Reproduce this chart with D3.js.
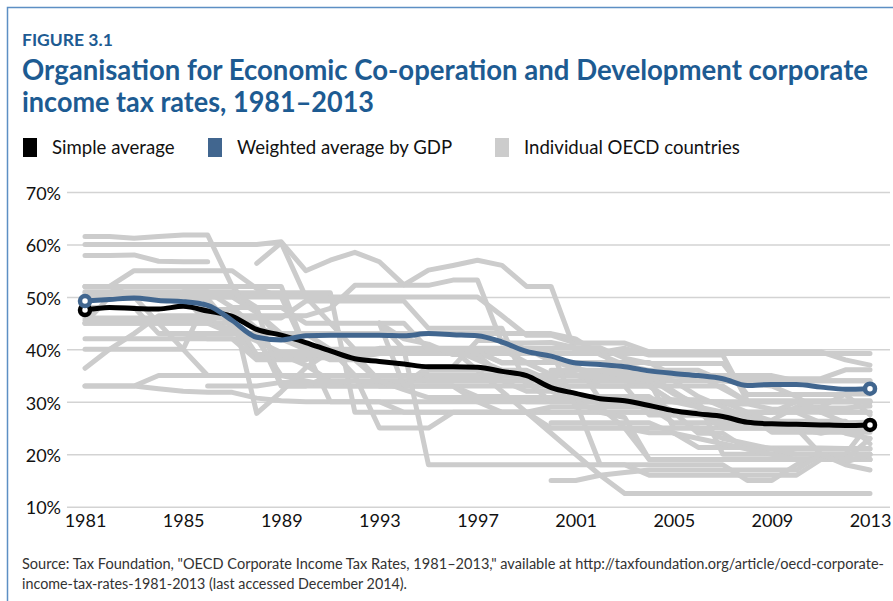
<!DOCTYPE html>
<html>
<head>
<meta charset="utf-8">
<script src="https://cdn.jsdelivr.net/npm/d3@7"></script>
<style>
  body { margin: 0; background: #fff; }
  svg { display: block; }
  text { font-family: Lato, "Open Sans", sans-serif; }
</style>
</head>
<body>
<svg width="893" height="601"></svg>
<script>
var N = null;
var years = d3.range(1981, 2014);

var simpleAverage = [47.5,48.0,47.8,47.7,48.2,47.3,46.3,43.8,42.7,41.3,39.7,38.2,37.7,37.2,36.7,36.7,36.6,35.8,35.0,32.7,31.6,30.6,30.2,29.3,28.3,27.7,27.2,26.1,25.8,25.7,25.6,25.5,25.6];
var weightedAverage = [49.2,49.5,49.8,49.3,49.1,48.4,45.5,42.3,41.8,42.6,42.7,42.7,42.7,42.6,43.0,42.8,42.6,41.4,39.6,38.7,37.4,37.1,36.7,35.9,35.4,35.0,34.4,33.1,33.3,33.3,32.8,32.4,32.5];

// individual OECD countries, 1981-2013 (null = no data)
var country01 = [61.5,61.5,61.2,61.5,61.8,61.8,52,47,42,40,39,39,34,34,34,34,34,34,34,34,34,34,34,34,25,25,25,25,25,25,25,25,25];
var country02 = [60,60,60,60,60,60,60,60,60.5,55,57,58.5,56.7,52.3,55.1,56,57,56,52,52,39.4,39.4,40.2,38.9,38.9,38.9,38.9,30.2,30.2,30.2,30.2,30.2,30.2];
var country03 = [57.9,57.9,58,56.8,56.7,56.7,N,56.4,60.3,50,45,40,40,40,40,40,40,40,37.5,37.5,37.5,37.5,37.5,37.5,35,35,35,35,35,34,34,34,34];
var country04 = [49.7,49.7,49.7,49.7,49.7,49.7,44,38.4,38.4,38.4,38.4,38.4,39.2,39.2,39.2,39.2,39.2,39.2,39.2,39.2,39.2,39.2,39.2,39.2,39.2,39.2,39.2,39.2,39.2,39.2,39.2,39.2,39.2];
var country05 = [52,52,55,55,55,55,55,51.6,50,50,50,50,50,50,50,50,50,46.4,42.7,42.7,41.2,41.2,41.2,39.5,39.5,39.5,39.5,39.5,39.5,39.5,39.5,38,37];
var country06 = [52,52,50,45,40,35,35,35,35,34,33,33,33,33,33,33,31,31,30,30,30,30,30,30,30,30,30,28,28,28,26,24,23];
var country07 = [50,50,50,50,50,45,45,42,39,37,34,34,33.3,33.3,36.7,36.7,41.7,41.7,40,37.8,36.4,35.4,35.4,35.4,35,34.4,34.4,34.4,34.4,34.4,34.4,36.1,36.1];
var country08 = [36.4,40,43,46.4,46.4,46.4,46.4,46.4,46.4,46.4,47.8,52.2,52.2,52.2,52.2,53.2,53.2,41.2,41.2,41.3,40.3,40.3,38.3,37.3,37.3,37.3,37.3,31.4,31.4,31.4,31.4,31.4,27.5];
var country09 = [51,51,51,51,51,51,48,44,43,43,43,43,43,43,43,43,43,43,43,43,42,39,37,36,36,36,34,33.5,33,31,28,26,26.1];
var country10 = [48,48,48,43,43,42,42,42,35,35,35,35,35,35,35,35,35,35,35,35,35,34.5,34.5,34.5,31.5,29.6,25.5,25.5,25.5,25.5,25,25,25];
var country11 = [45,45,45,45,45,45,43,43,43,41,39,39,40.2,40.2,40.2,40.2,40.2,40.2,40.2,40.2,40.2,40.2,34,34,34,34,34,34,34,34,34,34,34];
var country12 = [40,40,40,40,40,50,50,50,50,40,38,38,34,34,34,34,34,34,32,32,30,30,30,30,28,28,25,25,25,25,25,25,25];
var country13 = [42,42,42,42,42,42,42,38,38,38,40,35,35,35,35,35,35,35,35,35,35,35,35,35,32,29,25,25,25,25,20,20,26];
var country14 = [33,33,33,35,35,35,35,35,35,35,35,35,35,35,35,35,35,35,35,35,35,35,35,35,35,35,32.5,30,30,30,30,30,30];
var country15 = [33,33,33,32.5,32,31.8,31.8,30.7,30.2,30,30,30,30,30,30,30,30,28,28,25,25,25,25,24.1,24.1,21.3,21.3,21.3,21.2,21.2,21.2,21.1,21.1];
var country16 = [N,N,N,N,N,47.6,47.6,27.8,31.9,36.5,39.6,39.6,39.6,39.6,39.6,39.6,39.6,37.4,37.4,35.2,35.2,33,33,27.5,27.5,27.5,26.5,26.5,26.5,29,29,31.5,31.5];
var country17 = [45,50,50,50,50,50,50,47,43,43,40,40,40,40,40,40,36,32,28,24,20,16,12.5,12.5,12.5,12.5,12.5,12.5,12.5,12.5,12.5,12.5,12.5];
var country18 = [45.5,45.5,45.5,45.5,45.5,45.5,43.6,41.6,39.4,39.4,39.4,39.4,39.4,39.4,39.4,39.4,39.4,37.5,37.5,37.5,37.5,30.4,30.4,30.4,30.4,30.4,29.6,29.6,28.6,28.6,28.8,28.8,29.2];
var country19 = [45,45,45,45,45,45,48,48,33,33,33,33,33,33,33,33,33,33,33,33,33,33,33,33,33,33,33,30,30,30,28,28,28];
var country20 = [50.8,50.8,50.8,50.8,50.8,50.8,50.8,50.8,50.8,50.8,50.8,28,28,28,28,28,28,28,28,28,28,28,28,28,28,28,28,28,28,28,28,28,28];
var country21 = [52,52,52,52,52,52,52,52,52,40,30,30,30,28,28,28,28,28,28,28,28,28,28,28,28,28,28,28,26.3,26.3,26.3,26.3,22];
var country22 = [46,46,46,46,46,46,46,39,39,39,39,39,33,33,36,36,36,36,36,34,30,30,30,30,30,30,30,30,30,30,30,30,30];
var country23 = [N,N,N,N,43,43,43,43,33,33,35,35,25,25,25,28,28,28,28,29,29,29,29,29,26,26,26,26,26,26,26,24.5,24.5];
var country24 = [N,N,N,N,51,51,51,48,48,45,45,45,45,33,33,33,30,30,30,30,30,18,18,18,18,18,18,15,15,18,20,20,20];
var country25 = [N,N,N,N,46,46,46,46,46,49.2,49.2,49.2,49.2,49.2,44,44,44,44,33,33,33,33,33,33,30,30,20,20,20,20,20,20,20];
var country26 = [N,N,N,N,N,33,33,33,33.7,33.7,33.7,34,34,32.3,30.8,30.8,30.8,30.8,30.8,30.8,30.8,29.7,29.7,29.7,27.5,27.5,27.5,27.5,24.2,24.2,24.2,24.2,24.2];
var country27 = [N,N,N,N,N,N,N,N,N,N,N,N,35,35,34,34,34,34,34,35,35,35,34,33,30,29,28,28,28,30,30,30,30];
var country28 = [N,N,N,N,N,N,N,N,N,N,N,N,45,42,41,39,39,35,35,35,31,31,31,31,28,24,24,21,20,19,19,19,19];
var country29 = [N,N,N,N,N,N,N,N,N,N,N,N,45,40,18,18,18,18,18,18,18,18,18,16,16,16,16,16,16,16,19,19,19];
var country30 = [N,N,N,N,N,N,N,N,N,N,N,40,40,40,40,40,38,36,34,30,30,28,27,19,19,19,19,19,19,19,19,19,19];
var country31 = [N,N,N,N,N,N,N,N,N,N,N,N,45,45,40,40,40,40,40,40,29,29,25,19,19,19,19,19,19,19,19,19,23];
var country32 = [N,N,N,N,N,N,N,N,N,N,N,N,N,N,N,N,N,N,N,26,26,26,26,26,24,23,22,21,21,21,21,21,21];
var country33 = [N,N,N,N,N,N,N,N,N,N,N,N,N,N,N,N,N,N,N,15,15,16,16.5,17,17,17,17,17,17,17,20,18.5,20];
var country34 = [N,N,N,N,N,N,N,N,N,N,N,N,N,N,N,N,N,N,N,25,25,25,25,25,25,25,23,22,21,20,20,18,17];
var country35 = [N,N,N,N,N,N,N,N,N,N,N,N,N,N,N,N,N,N,N,36,36,36,36,35,34,31,29,27,26,25,24,25,25];

var individualCountries = [country01,country02,country03,country04,country05,country06,country07,
    country08,country09,country10,country11,country12,country13,country14,country15,country16,
    country17,country18,country19,country20,country21,country22,country23,country24,country25,
    country26,country27,country28,country29,country30,country31,country32,country33,country34,country35];

var yTicks = [10, 20, 30, 40, 50, 60, 70];
var xTicks = [1981, 1985, 1989, 1993, 1997, 2001, 2005, 2009, 2013];

var legendLabels = ["Simple average", "Weighted average by GDP", "Individual OECD countries"];
var legendColors = ["#000000", "#41668f", "#cccccc"];

var svg = d3.select("svg");
var width = +svg.attr("width");

var titleBlue = "#1d5b92";

var x = d3.scaleLinear().domain([1981, 2013]).range([85, 870]);
var y = d3.scaleLinear().domain([10, 70]).range([506.7, 192]);

// frame
svg.append("path")
    .attr("d", "M7.5,601V7.5H" + width)
    .attr("fill", "none")
    .attr("stroke", "#5d8fc4")
    .attr("stroke-width", 1.5);

// heading
svg.append("text")
    .attr("x", 22).attr("y", 46)
    .attr("font-size", 17.5).attr("font-weight", "bold")
    .attr("fill", titleBlue)
    .text("FIGURE 3.1");

svg.append("text")
    .attr("x", 22).attr("y", 80)
    .attr("font-size", 28).attr("font-weight", "bold")
    .attr("fill", titleBlue)
    .attr("textLength", 846).attr("lengthAdjust", "spacingAndGlyphs")
    .text("Organisation for Economic Co-operation and Development corporate");

svg.append("text")
    .attr("x", 22).attr("y", 112)
    .attr("font-size", 28).attr("font-weight", "bold")
    .attr("fill", titleBlue)
    .attr("textLength", 352).attr("lengthAdjust", "spacingAndGlyphs")
    .text("income tax rates, 1981–2013");

// legend
var legendX = [23, 208, 495];
var legend = svg.append("g").selectAll("g")
    .data(legendLabels)
    .enter().append("g")
    .attr("transform", function (d, i) { return "translate(" + legendX[i] + ",138)"; });

legend.append("rect")
    .attr("width", 14).attr("height", 19)
    .attr("fill", function (d, i) { return legendColors[i]; });

legend.append("text")
    .attr("x", 29).attr("y", 16)
    .attr("font-size", 18.6)
    .attr("fill", "#111")
    .text(function (d) { return d; });

// y grid + labels
var yAxis = svg.append("g")
    .attr("transform", "translate(67,0)")
    .call(d3.axisLeft(y)
        .tickValues(yTicks)
        .tickSize(-823)
        .tickPadding(6)
        .tickFormat(function (d) { return d + "%"; }));
yAxis.select(".domain").remove();
yAxis.selectAll("line").attr("stroke", "#d3d3d3").attr("stroke-width", 1.5);
yAxis.selectAll("text").attr("font-size", 18).attr("fill", "#111").attr("dy", "0.4em");

// x labels
var xAxis = svg.append("g")
    .attr("transform", "translate(0,506.7)")
    .call(d3.axisBottom(x)
        .tickValues(xTicks)
        .tickSize(0)
        .tickPadding(8)
        .tickFormat(d3.format("d")));
xAxis.select(".domain").remove();
xAxis.selectAll("text").attr("font-size", 18).attr("fill", "#111");

var line = d3.line()
    .defined(function (d) { return d[1] != null; })
    .x(function (d) { return x(d[0]); })
    .y(function (d) { return y(d[1]); });

var smooth = d3.line()
    .curve(d3.curveMonotoneX)
    .x(function (d) { return x(d[0]); })
    .y(function (d) { return y(d[1]); });

function pairs(values) {
    return years.map(function (yr, i) { return [yr, values[i]]; });
}

svg.append("g")
    .attr("class", "countries")
    .selectAll("path")
    .data(individualCountries)
    .enter().append("path")
    .attr("d", function (d) { return line(pairs(d)); })
    .attr("fill", "none")
    .attr("stroke", "#cccccc")
    .attr("stroke-width", 5)
    .attr("stroke-linejoin", "round")
    .attr("stroke-linecap", "round");

var averages = [
    { values: simpleAverage, color: "#000000" },
    { values: weightedAverage, color: "#41668f" }
];

averages.forEach(function (s) {
    var pts = pairs(s.values);
    svg.append("path")
        .attr("d", smooth(pts))
        .attr("fill", "none")
        .attr("stroke", s.color)
        .attr("stroke-width", 5)
        .attr("stroke-linejoin", "round");

    svg.append("g").selectAll("circle")
        .data([pts[0], pts[pts.length - 1]])
        .enter().append("circle")
        .attr("cx", function (d) { return x(d[0]); })
        .attr("cy", function (d) { return y(d[1]); })
        .attr("r", 5)
        .attr("fill", "#fff")
        .attr("stroke", s.color)
        .attr("stroke-width", 4.5);
});

// source note
svg.append("text")
    .attr("x", 22).attr("y", 569)
    .attr("font-size", 14.5).attr("fill", "#333")
    .attr("textLength", 862).attr("lengthAdjust", "spacingAndGlyphs")
    .text("Source: Tax Foundation, \"OECD Corporate Income Tax Rates, 1981–2013,\" available at http://taxfoundation.org/article/oecd-corporate-");

svg.append("text")
    .attr("x", 22).attr("y", 589)
    .attr("font-size", 14.5).attr("fill", "#333")
    .attr("textLength", 385).attr("lengthAdjust", "spacingAndGlyphs")
    .text("income-tax-rates-1981-2013 (last accessed December 2014).");
</script>
</body>
</html>
